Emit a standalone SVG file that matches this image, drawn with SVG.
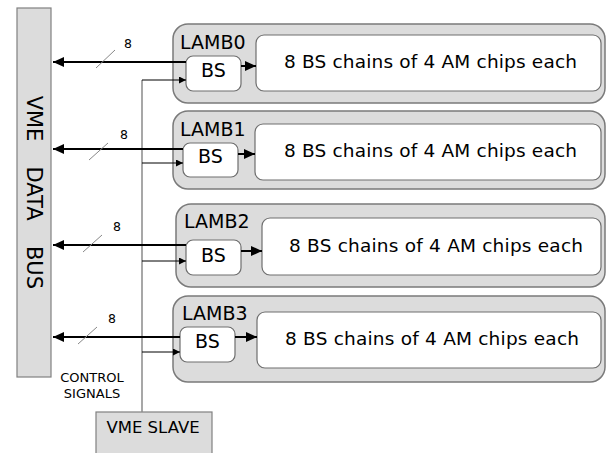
<svg xmlns="http://www.w3.org/2000/svg" width="607" height="453" viewBox="0 0 607 453">
<style>
text{font-family:"DejaVu Sans","Liberation Sans",sans-serif;fill:#000}
.gray{fill:#dcdcdc;stroke:#7a7a7a;stroke-width:1.5}
.white{fill:#fff;stroke:#6e6e6e;stroke-width:1.2}
.bus{fill:#dcdcdc;stroke:#808080;stroke-width:1.2}
.lamb{font-size:19px}
.bs{font-size:19px;text-anchor:middle}
.chain{font-size:18.5px}
.n8{font-size:12.5px;text-anchor:middle}
.data{stroke:#000;stroke-width:2;fill:none;marker-end:url(#big)}
.ctl{stroke:#000;stroke-width:1;fill:none;marker-end:url(#small)}
.slash{stroke:#888;stroke-width:1}
</style>
<defs>
<marker id="big" markerUnits="userSpaceOnUse" markerWidth="12" markerHeight="10" refX="11" refY="5" orient="auto">
<path d="M0,0 L11,5 L0,10 Z" fill="#000"/>
</marker>
<marker id="small" markerUnits="userSpaceOnUse" markerWidth="8" markerHeight="7" refX="7" refY="3.5" orient="auto">
<path d="M0,0 L7,3.5 L0,7 Z" fill="#000"/>
</marker>
</defs>

<g id="vme-bus">
<rect class="bus" x="17" y="8" width="34" height="369"/>
<text transform="translate(34,192) rotate(90)" style="font-size:21px;text-anchor:middle" y="7.5"><tspan x="-73.5">VME</tspan><tspan x="1.5">DATA</tspan><tspan x="75.5">BUS</tspan></text>
</g>

<g id="vme-slave">
<rect class="bus" x="96" y="412" width="116" height="50"/>
<text x="153" y="433" style="font-size:16.5px;text-anchor:middle">VME SLAVE</text>
</g>

<g id="control-label">
<text x="92" y="382" style="font-size:13px;text-anchor:middle">CONTROL</text>
<text x="92" y="398" style="font-size:13px;text-anchor:middle">SIGNALS</text>
</g>

<g id="lamb0">
<rect class="gray" x="173" y="24" width="432" height="79" rx="15"/>
<text class="lamb" x="180" y="49">LAMB0</text>
<rect class="white" x="186" y="56" width="55" height="35" rx="7"/>
<text class="bs" x="213.5" y="77">BS</text>
<rect class="white" x="256" y="35" width="345" height="56" rx="8"/>
<text class="chain" x="284" y="68" textLength="293">8 BS chains of 4 AM chips each</text>
</g>

<g id="lamb1">
<rect class="gray" x="173" y="111" width="432" height="78" rx="15"/>
<text class="lamb" x="180" y="136">LAMB1</text>
<rect class="white" x="183" y="143" width="55" height="34" rx="7"/>
<text class="bs" x="210.5" y="163">BS</text>
<rect class="white" x="255" y="124" width="346" height="56" rx="8"/>
<text class="chain" x="284" y="157" textLength="293">8 BS chains of 4 AM chips each</text>
</g>

<g id="lamb2">
<rect class="gray" x="176" y="204" width="429" height="83" rx="15"/>
<text class="lamb" x="184" y="228">LAMB2</text>
<rect class="white" x="186" y="240" width="55" height="35" rx="7"/>
<text class="bs" x="213.5" y="262">BS</text>
<rect class="white" x="262" y="218" width="339" height="57" rx="8"/>
<text class="chain" x="289" y="252" textLength="294">8 BS chains of 4 AM chips each</text>
</g>

<g id="lamb3">
<rect class="gray" x="173" y="296" width="432" height="86" rx="15"/>
<text class="lamb" x="182" y="320">LAMB3</text>
<rect class="white" x="180" y="327" width="55" height="35" rx="7"/>
<text class="bs" x="207.5" y="348">BS</text>
<rect class="white" x="257" y="312" width="344" height="56" rx="8"/>
<text class="chain" x="285" y="345" textLength="294">8 BS chains of 4 AM chips each</text>
</g>

<g id="connectors">
<line x1="142" y1="80" x2="142" y2="412" stroke="#8a8a8a" stroke-width="1.5"/>
<line class="data" x1="186" y1="62" x2="53" y2="62"/>
<line class="data" x1="183" y1="149" x2="53" y2="149"/>
<line class="data" x1="186" y1="245" x2="53" y2="245"/>
<line class="data" x1="180" y1="337" x2="53" y2="337"/>
<line class="slash" x1="96" y1="68" x2="115" y2="50"/>
<line class="slash" x1="89" y1="160" x2="108" y2="143"/>
<line class="slash" x1="83" y1="252" x2="102" y2="235"/>
<line class="slash" x1="78" y1="344" x2="97" y2="327"/>
<text class="n8" x="128" y="48">8</text>
<text class="n8" x="124" y="139">8</text>
<text class="n8" x="117" y="231">8</text>
<text class="n8" x="112" y="323">8</text>
<line class="ctl" x1="142" y1="80" x2="186" y2="80"/>
<line class="ctl" x1="142" y1="163" x2="183" y2="163"/>
<line class="ctl" x1="142" y1="261" x2="186" y2="261"/>
<line class="ctl" x1="142" y1="352" x2="180" y2="352"/>
<line class="data" x1="241" y1="66" x2="256" y2="66"/>
<line class="data" x1="238" y1="154" x2="255" y2="154"/>
<line class="data" x1="241" y1="251" x2="262" y2="251"/>
<line class="data" x1="235" y1="337" x2="257" y2="337"/>
</g>
</svg>
